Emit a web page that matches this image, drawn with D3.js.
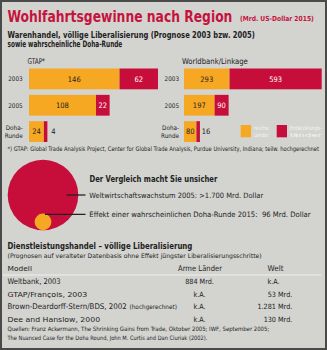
<!DOCTYPE html>
<html>
<head>
<meta charset="utf-8">
<script src="https://cdn.jsdelivr.net/npm/d3@7"></script>
<style>
  body { margin: 0; background: #fff; }
  svg { display: block; }
</style>
</head>
<body>
<div id="chart"></div>
<script>
// Wohlfahrtsgewinne nach Region
const categories = ["2003", "2005", "Doha-Runde"];
const gtapRich = [146, 108, 24];
const gtapDev = [62, 22, 4];
const wbRich = [293, 197, 80];
const wbDev = [593, 90, 16];
const legendLabels = [["reiche", "Länder"], ["Entwicklungs-", "länder"]];

const circleValues = [1700, 96];
const circleLabels = [
  "Weltwirtschaftswachstum 2005: >1.700 Mrd. Dollar",
  "Effekt einer wahrscheinlichen Doha-Runde 2015:  96 Mrd. Dollar"
];

const tableHeader = ["Modell", "Arme Länder", "Welt"];
const tableModels = ["Weltbank, 2003", "GTAP/François, 2003", "Brown-Deardorff-Stern/BDS, 2002", "Dee and Hanslow, 2000"];
const tableNotes = ["", "", "(hochgerechnet)", ""];
const tablePoor = ["884 Mrd.", "k.A.", "k.A.", "k.A."];
const tableWorld = ["k.A.", "53 Mrd.", "1.281 Mrd.", "130 Mrd."];

const width = 327;
const height = 350;
const orange = "#f7a823";
const red = "#c70d3a";
const ink = "#222";
const FONT = "'Liberation Sans Narrow','DejaVu Sans Condensed','Open Sans',sans-serif";

const svg = d3.select("#chart")
  .append("svg")
  .attr("width", width)
  .attr("height", height)
  .attr("font-family", FONT);

// frame
svg.append("rect").attr("width", width).attr("height", height).attr("fill", "#4a4a4a");
svg.append("rect").attr("x", 2).attr("y", 2).attr("width", width - 4).attr("height", height - 4).attr("fill", "#d3d3d0");

// text squeezed horizontally to a given width (w)
function text(x, y, s, o = {}) {
  const g = svg.append("g").attr("transform", `translate(${x},${y})`);
  const t = g.append("text")
    .attr("font-size", o.size || 7)
    .attr("font-weight", o.bold ? "bold" : "normal")
    .attr("fill", o.fill || ink)
    .attr("text-anchor", o.anchor || "start")
    .style("white-space", "pre")
    .text(s);
  if (o.w) {
    const natural = t.node().getComputedTextLength();
    if (natural > 0) t.attr("transform", `scale(${o.w / natural},1)`);
  }
  return t;
}

// headings
text(7.5, 21.5, "Wohlfahrtsgewinne nach Region", { size: 15, bold: true, fill: "#c5133d", w: 225 });
text(240, 21, "(Mrd. US-Dollar 2015)", { size: 7, bold: true, fill: "#c5133d", w: 74 });
text(7.5, 37.5, "Warenhandel, völlige Liberalisierung (Prognose 2003 bzw. 2005)", { size: 9, bold: true, w: 247.5 });
text(7.5, 47, "sowie wahrscheinliche Doha-Runde", { size: 9, bold: true, w: 115 });

// bar panels
const y = d3.scaleBand()
  .domain(categories)
  .range([68.5, 142])
  .paddingInner(0.21)
  .paddingOuter(0);

function panel(title, titleX, titleW, labelRight, rich, dev, x) {
  text(titleX, 64, title, { size: 8, w: titleW });

  const g = svg.append("g");
  const rows = g.selectAll("g")
    .data(categories.map((c, i) => ({ c, r: rich[i], d: dev[i] })))
    .enter()
    .append("g");

  rows.append("rect")
    .attr("x", x(0))
    .attr("y", d => y(d.c))
    .attr("width", d => x(d.r) - x(0))
    .attr("height", y.bandwidth())
    .attr("fill", orange);

  rows.append("rect")
    .attr("x", d => x(d.r))
    .attr("y", d => y(d.c))
    .attr("width", d => Math.max(3.5, x(d.r + d.d) - x(d.r)))
    .attr("height", y.bandwidth())
    .attr("fill", red);

  rows.append("text")
    .attr("x", d => (x(0) + x(d.r)) / 2)
    .attr("y", d => y(d.c) + y.bandwidth() / 2 + 2.6)
    .attr("text-anchor", "middle")
    .attr("font-size", 7.5)
    .attr("fill", ink)
    .text(d => d.r);

  rows.append("text")
    .attr("x", d => {
      const w = x(d.r + d.d) - x(d.r);
      return w < 10 ? x(d.r) + Math.max(3.5, w) + 6 : (x(d.r) + x(d.r + d.d)) / 2;
    })
    .attr("y", d => y(d.c) + y.bandwidth() / 2 + 2.6)
    .attr("text-anchor", "middle")
    .attr("font-size", 7.5)
    .attr("fill", d => (x(d.r + d.d) - x(d.r) < 10 ? ink : "#fff"))
    .text(d => d.d);

  // row labels
  rows.each(function (d) {
    const cy = y(d.c) + y.bandwidth() / 2;
    const parts = d.c.includes("-") ? [d.c.split("-")[0] + "-", d.c.split("-")[1]] : [d.c];
    parts.forEach((p, k) => {
      d3.select(this).append("text")
        .attr("x", labelRight)
        .attr("y", cy + 2.3 + (k - (parts.length - 1) / 2) * 7.5)
        .attr("text-anchor", "end")
        .attr("font-size", 6.3)
        .attr("fill", ink)
        .text(p);
    });
  });
}

const xGtap = d3.scaleLinear().domain([0, 208]).range([29, 158]);
const xWb = d3.scaleLinear().domain([0, 886]).range([184, 321.7]);

panel("GTAP*", 27.5, 17.5, 22.7, gtapRich, gtapDev, xGtap);
panel("Worldbank/Linkage", 182, 66, 179, wbRich, wbDev, xWb);

// legend
[orange, red].forEach((col, i) => {
  const lx = 240.7 + i * 36;
  svg.append("rect")
    .attr("x", lx).attr("y", 125)
    .attr("width", 10.3).attr("height", 12.3)
    .attr("fill", col);
  legendLabels[i].forEach((s, k) => {
    text(lx + 13, 129.8 + k * 7, s, { size: 5.8, fill: "#f6f4f0", w: i ? 32 : 15 });
  });
});

text(7.5, 151, "*) GTAP: Global Trade Analysis Project, Center for Global Trade Analysis, Purdue University, Indiana; teilw. hochgerechnet", { size: 6.2, w: 311 });

// circles, area proportional to value
const r = d3.scaleSqrt().domain([0, circleValues[0]]).range([0, 35.3]);
const ccx = 43;
const ccy = 195;
const rBig = r(circleValues[0]);
const rSmall = r(circleValues[1]);
svg.append("circle").attr("cx", ccx).attr("cy", ccy).attr("r", rBig).attr("fill", red);
svg.append("circle").attr("cx", ccx).attr("cy", ccy + rBig - rSmall).attr("r", rSmall).attr("fill", orange);

svg.append("line")
  .attr("x1", 66.5).attr("x2", 85.5).attr("y1", 195).attr("y2", 195)
  .attr("stroke", ink).attr("stroke-width", 1.3);
svg.append("line")
  .attr("x1", ccx + 2).attr("x2", 85.5).attr("y1", 214.3).attr("y2", 214.3)
  .attr("stroke", ink).attr("stroke-width", 1.3);

text(89.5, 182, "Der Vergleich macht Sie unsicher", { size: 9, bold: true, w: 128 });
text(89.3, 197.6, circleLabels[0], { size: 7.4, w: 174 });
text(89.3, 216.6, circleLabels[1], { size: 7.4, w: 221.5 });

// services table
text(7.5, 248.5, "Dienstleistungshandel – völlige Liberalisierung", { size: 9, bold: true, w: 185 });
text(7.5, 257.6, "(Prognosen auf veralteter Datenbasis ohne Effekt jüngster Liberalisierungsschritte)", { size: 6.2, w: 254 });

text(7.5, 271, tableHeader[0], { size: 7.8, w: 24.5 });
text(200, 271, tableHeader[1], { size: 7.8, anchor: "middle", w: 44 });
text(275.5, 271, tableHeader[2], { size: 7.8, anchor: "middle", w: 16 });

svg.append("line")
  .attr("x1", 3).attr("x2", 321).attr("y1", 275).attr("y2", 275)
  .attr("stroke", "#f2f2f0").attr("stroke-width", 0.9);

const rowY = d3.scalePoint().domain(tableModels).range([284, 321.5]);
const modelW = [53.3, 80, 119.4, 92.7];

tableModels.forEach((m, i) => {
  const yy = rowY(m);
  text(7.5, yy, m, { size: 7.8, w: modelW[i] });
  if (tableNotes[i]) text(129.5, yy, tableNotes[i], { size: 6.2, w: 47.5 });
  text(199.5, yy, tablePoor[i], { size: 7.2, anchor: "middle" });
  const ka = tableWorld[i] === "k.A.";
  text(ka ? 273.5 : 292.3, yy, tableWorld[i], { size: 7.2, anchor: ka ? "middle" : "end" });
});

text(7.5, 330.5, "Quellen: Franz Ackermann, The Shrinking Gains from Trade, Oktober 2005; IWF, September 2005;", { size: 6, w: 262.5 });
text(7.5, 339.8, "The Nuanced Case for the Doha Round, John M. Curtis and Dan Ciuriak (2002).", { size: 6, w: 200 });
</script>
</body>
</html>
